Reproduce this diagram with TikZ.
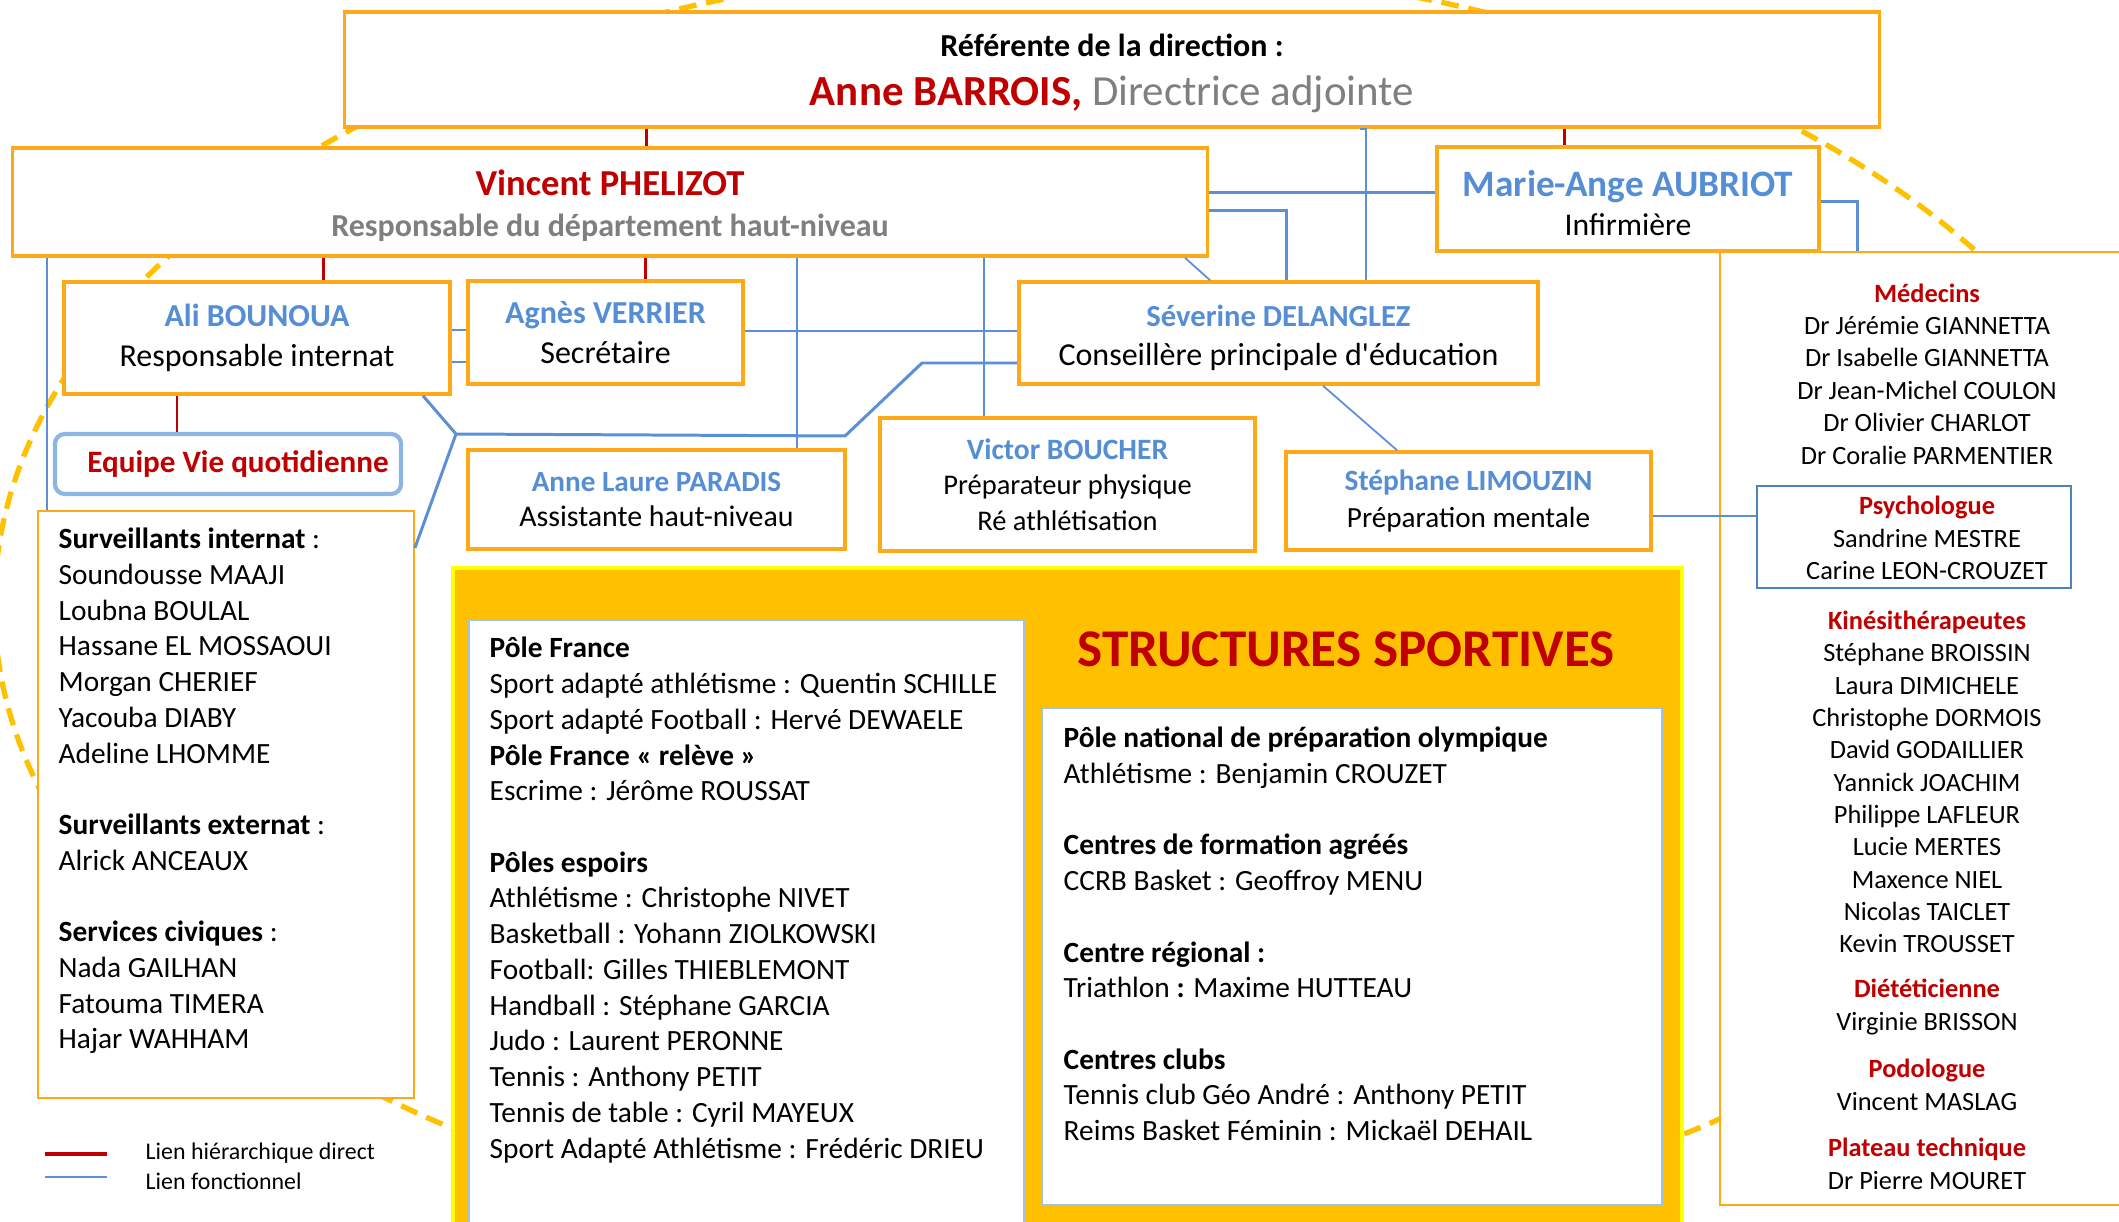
\documentclass[tikz,border=0pt]{standalone}
\usepackage{fontspec}
\setmainfont{Carlito}
\usepackage{tikz}
\usepackage{xcolor}
\usetikzlibrary{calc,positioning}
\definecolor{cadre}{RGB}{255,168,24}
\definecolor{soleil}{RGB}{255,192,0}
\definecolor{jaune}{RGB}{255,255,0}
\definecolor{rouge}{RGB}{192,0,0}
\definecolor{bleu}{RGB}{85,142,213}
\definecolor{trait}{RGB}{91,143,214}
\definecolor{gris}{RGB}{127,127,127}
\definecolor{ciel}{RGB}{142,180,227}
\definecolor{acier}{RGB}{79,129,189}
\definecolor{pale}{RGB}{157,195,230}
\newcommand{\nom}[1]{\textbf{\textcolor{bleu}{#1}}}
\newcommand{\rub}[1]{\textbf{\textcolor{rouge}{#1}}}
\newcommand{\taille}[2]{\fontsize{#1}{#2}\selectfont}

\begin{document}
\begin{tikzpicture}[x=0.01cm, y=-0.01cm,
    box/.style={draw=cadre, line width=1pt, fill=white, inner sep=0pt, align=center},
    fin/.style={draw=cadre, line width=0.45pt, fill=white, inner sep=0pt},
    cadrebleu/.style={draw=pale, line width=0.45pt, fill=white, inner sep=0pt},
    liste/.style={inner sep=0pt, align=left, font=\taille{8.35}{10.16}},
    panneau/.style={inner sep=0pt, align=center, font=\taille{7.5}{9.2}},
    hier/.style={draw=rouge, line width=0.85pt},
    fct/.style={draw=trait, line width=0.85pt},
    fctfin/.style={draw=trait, line width=0.5pt}]
\useasboundingbox (0,0) rectangle (2119,1222);
\clip (0,0) rectangle (2119,1222);

% pointilles autour de l'organigramme
\draw[soleil, line width=1.5pt, dash pattern=on 5pt off 2.8pt] (1075,605) ellipse [x radius=10.8cm, y radius=6.4cm];

% colonne de droite
\node[fin, minimum width=4.1cm, minimum height=9.53cm] (panel) at (1925,728.5) {};
\node[panneau] (medecins) at (1927,374) {\rub{Médecins}\\ Dr Jérémie GIANNETTA\\ Dr Isabelle GIANNETTA\\ Dr Jean-Michel COULON\\ Dr Olivier CHARLOT\\ Dr Coralie PARMENTIER};
\node[draw=acier, line width=0.5pt, fill=white, minimum width=3.14cm, minimum height=1.02cm] (psy) at (1914,537) {};
\node[panneau] (psytxt) at (1927,538) {\rub{Psychologue}\\ Sandrine MESTRE\\ Carine LEON-CROUZET};
\node[panneau] (kine) at (1927,782) {\rub{Kinésithérapeutes}\\ Stéphane BROISSIN\\ Laura DIMICHELE\\ Christophe DORMOIS\\ David GODAILLIER\\ Yannick JOACHIM\\ Philippe LAFLEUR\\ Lucie MERTES\\ Maxence NIEL\\ Nicolas TAICLET\\ Kevin TROUSSET};
\node[panneau] (diet) at (1927,1007) {\rub{Diététicienne}\\ Virginie BRISSON};
\node[panneau] (podo) at (1927,1085) {\rub{Podologue}\\ Vincent MASLAG};
\node[panneau] (plateau) at (1927,1164) {\rub{Plateau technique}\\ Dr Pierre MOURET};

% equipe de surveillance
\node[fin, minimum width=3.76cm, minimum height=5.87cm] (surv) at (226,804.5) {};
\node[liste, anchor=west] (survtxt) at (58,791) {\textbf{Surveillants internat} :\\ Soundousse MAAJI\\ Loubna BOULAL\\ Hassane EL MOSSAOUI\\ Morgan CHERIEF\\ Yacouba DIABY\\ Adeline LHOMME\\[10.16pt]
  \textbf{Surveillants externat} :\\ Alrick ANCEAUX\\[10.16pt]
  \textbf{Services civiques} :\\ Nada GAILHAN\\ Fatouma TIMERA\\ Hajar WAHHAM};

% structures sportives
\node[draw=jaune, line width=1.2pt, fill=soleil, minimum width=12.29cm, minimum height=6.72cm, inner sep=0pt] (struct) at (1067.5,904) {};
\node[cadrebleu, minimum width=5.55cm, minimum height=6.2cm] (poles) at (746.5,930) {};
\node[cadrebleu, minimum width=6.2cm, minimum height=4.97cm] (centres) at (1352,956.5) {};
\node[font=\taille{15.1}{18}] (titre) at (1346,649) {\rub{STRUCTURES SPORTIVES}};
\node[liste, anchor=west] (polestxt) at (489,900) {\textbf{Pôle France}\\ Sport adapté athlétisme : Quentin SCHILLE\\ Sport adapté Football : Hervé DEWAELE\\ \textbf{Pôle France « relève »}\\ Escrime : Jérôme ROUSSAT\\[10.16pt]
  \textbf{Pôles espoirs}\\ Athlétisme : Christophe NIVET\\ Basketball : Yohann ZIOLKOWSKI\\ Football: Gilles THIEBLEMONT\\ Handball : Stéphane GARCIA\\ Judo : Laurent PERONNE\\ Tennis : Anthony PETIT\\ Tennis de table : Cyril MAYEUX\\ Sport Adapté Athlétisme : Frédéric DRIEU};
\node[liste, anchor=west] (centrestxt) at (1063,934) {\textbf{Pôle national de préparation olympique}\\ Athlétisme : Benjamin CROUZET\\[10.16pt]
  \textbf{Centres de formation agréés}\\ CCRB Basket : Geoffroy MENU\\[10.16pt]
  \textbf{Centre régional :}\\ Triathlon \textbf{:} Maxime HUTTEAU\\[10.16pt]
  \textbf{Centres clubs}\\ Tennis club Géo André : Anthony PETIT\\ Reims Basket Féminin : Mickaël DEHAIL};

% organigramme
\node[box, minimum width=15.34cm, minimum height=1.15cm, font=\taille{12.2}{14}] (anne) at (1112,69.5)
  {{\taille{9.1}{14}\rule{0pt}{8.5pt}\textbf{Référente de la direction :}}\\ \rub{Anne BARROIS,} \textcolor{gris}{Directrice adjointe}};
\node[box, minimum width=11.945cm, minimum height=1.08cm, font=\taille{10.4}{11.7}] (vinc) at (610,202)
  {\rule{0pt}{9.6pt}\rub{Vincent PHELIZOT}\\ {\taille{9.1}{11.7}\textbf{\textcolor{gris}{Responsable du département haut-niveau}}}};
\node[box, minimum width=3.82cm, minimum height=1.04cm, font=\taille{10.6}{11.1}] (ma) at (1628,199)
  {\rule{0pt}{9.8pt}\nom{Marie-Ange AUBRIOT}\\ {\taille{9}{11.1}Infirmière}};
\node[box, minimum width=3.86cm, minimum height=1.12cm, font=\taille{9.1}{11.4}] (ali) at (257,338)
  {\nom{Ali BOUNOUA}\\ Responsable internat};
\node[box, minimum width=2.75cm, minimum height=1.03cm, font=\taille{9.1}{11.4}] (agnes) at (605.5,332.5)
  {\nom{Agnès VERRIER}\\ Secrétaire};
\node[box, minimum width=5.19cm, minimum height=1.02cm, font=\taille{9.1}{11.1}] (sev) at (1278.5,333)
  {{\taille{8.7}{11.1}\rule{0pt}{8.6pt}\nom{Séverine DELANGLEZ}}\\ Conseillère principale d\textquotesingle éducation};
\node[draw=ciel, line width=1.2pt, rounded corners=0.1cm, fill=white, minimum width=3.46cm, minimum height=0.6cm, font=\taille{8.85}{10}] (equipe) at (228,464)
  {\hspace*{0.2cm}\rub{Equipe Vie quotidienne}};
\node[box, minimum width=3.77cm, minimum height=0.99cm, font=\taille{8.3}{10}] (paradis) at (656.5,499.5)
  {\nom{Anne Laure PARADIS}\\ {\taille{8.5}{10}Assistante haut-niveau}};
\node[box, minimum width=3.75cm, minimum height=1.33cm, font=\taille{8.4}{10.1}] (victor) at (1067.5,484.5)
  {\nom{Victor BOUCHER}\\ {\taille{8.1}{10.1}Préparateur physique}\\ {\taille{8.1}{10.1}Ré athlétisation}};
\node[box, minimum width=3.65cm, minimum height=0.98cm, font=\taille{8.35}{10.5}] (limouzin) at (1468.5,501)
  {\nom{Stéphane LIMOUZIN}\\ {\taille{8.3}{10.5}Préparation mentale}};

% liens hierarchiques
\draw[hier] (646,0 |- anne.south) -- (646,0 |- vinc.north);
\draw[hier] (1564,0 |- anne.south) -- (1564,0 |- ma.north);
\draw[hier] (323,0 |- vinc.south) -- (323,0 |- ali.north);
\draw[hier] (645,0 |- vinc.south) -- (645,0 |- agnes.north);
\draw[hier] (177,0 |- ali.south) -- (177,0 |- equipe.north);

% liens fonctionnels
\coordinate (fourche) at (456,434);
\draw[fctfin] (47,0 |- vinc.south) -- (47,0 |- surv.north);
\draw[fct] (ali.east |- 0,330) -- (agnes.west |- 0,330);
\draw[fct] (ali.east |- 0,362) -- (agnes.west |- 0,362);
\draw[fct] (agnes.east |- 0,331) -- (sev.west |- 0,331);
\draw[fctfin] (797,0 |- vinc.south) -- (797,0 |- paradis.north);
\draw[fct] (423,0 |- ali.south) -- (fourche) -- (845,436) -- (922,363) -- (sev.west |- 0,363);
\draw[fct] (fourche) -- (surv.east |- 0,548);
\draw[fctfin] (984,0 |- vinc.south) -- (984,0 |- victor.north);
\draw[fctfin] (1185,0 |- vinc.south) -- (1210,0 |- sev.north);
\draw[fct] (vinc.east |- 0,193) -- (ma.west |- 0,193);
\draw[fct] (vinc.east |- 0,211) -| (1286,0 |- sev.north);
\draw[fctfin] (1360,0 |- anne.south) -| (1366,0 |- sev.north);
\draw[fctfin] (1323,0 |- sev.south) -- (1397,0 |- limouzin.north);
\draw[fct] (ma.east |- 0,202) -| (1857,0 |- panel.north);
\draw[fct] (limouzin.east |- 0,516) -- (psy.west |- 0,516);

% legende
\coordinate (lh1) at (45,1154);
\coordinate (lh2) at (107,1154);
\coordinate (lf1) at (45,1177);
\coordinate (lf2) at (107,1177);
\draw[rouge, line width=0.95pt] (lh1) -- (lh2);
\draw[trait, line width=0.65pt] (lf1) -- (lf2);
\node[anchor=west, inner sep=0pt, font=\taille{6.8}{8}] (leghier) at (145,1153) {Lien hiérarchique direct};
\node[anchor=west, inner sep=0pt, font=\taille{6.8}{8}] (legfct) at (145,1181) {Lien fonctionnel};
\end{tikzpicture}
\end{document}
